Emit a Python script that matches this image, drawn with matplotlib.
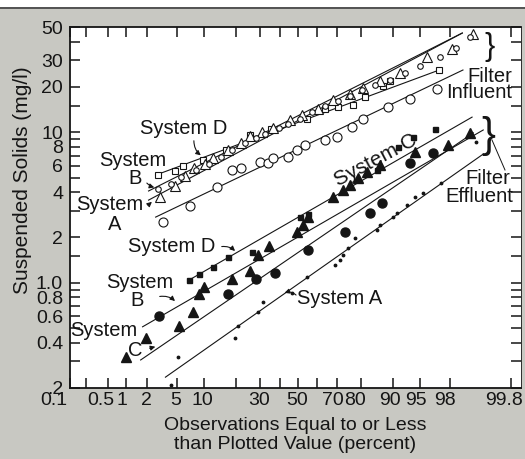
import math

import numpy as np
import matplotlib

matplotlib.use("Agg")
import matplotlib.pyplot as plt
from matplotlib.patches import Rectangle
from matplotlib.transforms import ScaledTranslation

plt.rcParams["font.family"] = ["Liberation Sans", "DejaVu Sans"]

# Filter influent
inf_a_pct = [3.1, 4.8, 6.3, 7.8, 10.4, 12.5, 17.2, 21.7, 25.8, 31.3, 36.3, 45.7,
             52.2, 60.6, 68.1, 75.9, 81.0, 86.6, 91.6, 95.9, 98.1, 99.1]
inf_a_val = [3.71, 4.39, 5.12, 5.8, 6.15, 6.73, 7.61, 8.47, 9.4, 10.0, 10.7, 12.05,
             13.0, 14.3, 16.35, 18.0, 19.7, 21.8, 24.8, 31.6, 35.8, 44.9]
inf_b_pct = [2.84, 4.18, 5.54, 8.2, 11.2, 14.6, 18.6, 23.7, 28.1, 32.8, 39.4, 44.6,
             51.1, 57.5, 64.2, 70.6, 75.9, 80.6, 85.1, 89.3, 92.6, 95.0, 97.25,
             98.36, 99.0]
inf_b_val = [4.19, 4.53, 5.04, 5.61, 6.15, 6.84, 7.61, 8.47, 9.1, 9.8, 10.7, 11.3,
             12.3, 13.6, 14.9, 16.1, 17.4, 19.1, 20.6, 22.2, 24.8, 27.4, 31.6,
             36.2, 43.1]
inf_c_pct = [3.3, 7.2, 13.4, 18.3, 21.7, 30.4, 33.8, 36.8, 44.6, 49.5, 53.8, 64.2,
             70.1, 76.7, 81.0, 88.8, 93.5, 97.0]
inf_c_val = [2.53, 3.23, 4.32, 5.61, 5.83, 6.34, 6.24, 6.73, 6.84, 7.61, 8.22, 8.87,
             9.27, 10.8, 12.3, 14.6, 16.7, 19.4]
inf_d_pct = [2.84, 4.8, 6.0, 9.9, 16.2, 25.8, 35.3, 54.8, 64.2, 70.6, 77.1, 81.7,
             87.5, 89.3, 97.1]
inf_d_val = [5.19, 5.52, 5.93, 6.53, 7.61, 9.57, 10.5, 12.3, 14.3, 14.6, 15.2, 17.2,
             20.3, 21.8, 25.9]

# Filter effluent
eff_a_pct = [4.2, 5.1, 19.7, 20.5, 29.0, 31.8, 46.8, 54.8, 69.1, 71.5, 72.8, 75.0,
             77.9, 85.7, 86.6, 90.0, 90.9, 93.0, 94.3, 95.4, 97.3, 99.2]
eff_a_val = [0.21, 0.32, 0.43, 0.52, 0.64, 0.75, 0.86, 1.09, 1.31, 1.42, 1.53, 1.70,
             1.98, 2.24, 2.42, 2.73, 2.90, 3.28, 3.71, 3.94, 4.6, 8.6]
eff_b_pct = [2.93, 16.9, 28.1, 37.8, 55.4, 73.7, 83.5, 87.2, 93.5, 96.6]
eff_b_val = [0.60, 0.84, 1.06, 1.16, 1.65, 2.17, 2.92, 3.39, 6.24, 7.27]
eff_c_pct = [0.97, 1.93, 5.24, 7.6, 8.83, 9.96, 18.6, 25.8, 29.0, 34.3, 49.5, 52.7,
             55.4, 68.2, 72.8, 75.9, 79.1, 82.4, 86.6, 94.3, 97.87, 99.0]
eff_c_val = [0.32, 0.43, 0.52, 0.64, 0.84, 0.94, 1.06, 1.19, 1.53, 1.75, 2.17, 2.42,
             2.73, 3.71, 4.13, 4.46, 4.98, 5.45, 6.05, 7.4, 8.22, 9.9]
eff_d_pct = [6.86, 8.83, 12.3, 17.2, 26.7, 51.1, 55.4, 85.7, 91.0, 94.0, 96.8]
eff_d_val = [1.04, 1.14, 1.27, 1.48, 1.59, 2.73, 2.85, 5.61, 7.97, 9.25, 10.5]

# прямые (начало, конец)
inf_a_line = ([2.13, 98.67], [3.54, 45.6])
inf_b_line = ([2.13, 98.67], [4.07, 45.6])
inf_c_line = ([2.67, 98.7], [2.73, 25.9])
inf_d_line = ([2.67, 96.98], [5.19, 25.6])
eff_a_line = ([3.6, 99.38], [0.236, 7.16])
eff_b_line = ([1.75, 99.38], [0.51, 10.35])
eff_c_line = ([1.64, 99.1], [0.307, 9.9])
eff_d_line = ([6.9, 99.06], [1.04, 12.6])

xtick_vals = [0.1, 0.5, 1, 2, 5, 10, 30, 50, 70, 80, 90, 95, 98, 99.8]
xtick_labels = ["0.1", "0.5", "1", "2", "5", "10", "30", "50", "70", "80", "90",
                "95", "98", "99.8"]
xtick_minor = [0.2, 20, 40, 60]
ytick_vals = [0.2, 0.4, 0.6, 0.8, 1.0, 2, 4, 6, 8, 10, 20, 30, 50]
ytick_labels = [".2", "0.4", "0.6", "0.8", "1.0", "2", "4", "6", "8", "10", "20",
                "30", "50"]
ytick_minor = [0.3, 0.5, 0.7, 0.9, 1.5, 3, 5, 7, 9, 15, 40]

# --- вероятностная шкала (нормальное распределение) ---
_Z = np.linspace(-6, 6, 6001)
_P = 50.0 * (1.0 + np.array([math.erf(z / math.sqrt(2)) for z in _Z]))


def pct_to_z(p):
    return np.interp(p, _P, _Z)


def z_to_pct(z):
    return np.interp(z, _Z, _P)


BG = "#c8c8c2"
INK = "#151515"

fig = plt.figure(figsize=(5.25, 4.59), dpi=100, facecolor=BG)
fig.patches.append(Rectangle((0, 1 - 7 / 459), 1, 7 / 459, transform=fig.transFigure,
                             facecolor="white", edgecolor="none", zorder=0))
fig.patches.append(Rectangle((0, 1 - 9 / 459), 1, 2 / 459, transform=fig.transFigure,
                             facecolor="#555555", edgecolor="none", zorder=0))

ax = fig.add_axes([70 / 525, 1 - 388 / 459, 451 / 525, 361 / 459])
ax.set_facecolor("white")
ax.set_xscale("function", functions=(pct_to_z, z_to_pct))
ax.set_yscale("log")
ax.set_xlim(0.1, 99.87)
ax.set_ylim(0.2, 50)

for s in ax.spines.values():
    s.set_color(INK)
    s.set_linewidth(1.3)
ax.spines["right"].set_linewidth(0.6)

ax.set_xticks(xtick_vals, xtick_labels)
ax.set_xticks(xtick_minor, minor=True)
ax.set_yticks(ytick_vals, ytick_labels)
ax.set_yticks(ytick_minor, minor=True)
ax.yaxis.set_minor_formatter(plt.NullFormatter())
ax.xaxis.set_minor_formatter(plt.NullFormatter())
ax.tick_params(which="both", direction="in", length=7, width=1.1, color=INK,
               top=True, right=True, labelcolor=INK, labelsize=14)
ax.tick_params(axis="x", pad=3)
ax.tick_params(axis="y", pad=5)

# подписи оси X в оригинале слегка сдвинуты влево
x_shift = [-16, -7, -5, 0, -1, -1, -1, -1, -4, -6, -3, -4, -5, -7]
for lab, dx in zip(ax.get_xticklabels(), x_shift):
    lab.set_transform(lab.get_transform() + ScaledTranslation(dx / 100, 0, fig.dpi_scale_trans))

ax.set_xlabel("Observations Equal to or Less\nthan Plotted Value (percent)",
              fontsize=14, color=INK, linespacing=1.1, labelpad=6)
ax.set_ylabel("Suspended Solids (mg/l)", fontsize=15, color=INK)
ax.yaxis.set_label_coords(-0.084, 0.576)

lw = 0.8
for lx, ly in (inf_a_line, inf_b_line, inf_c_line, inf_d_line,
               eff_a_line, eff_b_line, eff_c_line, eff_d_line):
    ax.plot(lx, ly, color=INK, lw=lw)

op = dict(ls="none", mfc="white", mec=INK, mew=0.8)
ax.plot(inf_c_pct, inf_c_val, "o", ms=6.5, **op)
ax.plot(inf_d_pct, inf_d_val, "s", ms=3.8, **op)
ax.plot(inf_a_pct, inf_a_val, "^", ms=7, **op)
ax.plot(inf_b_pct, inf_b_val, "o", ms=4, **op)

fl = dict(ls="none", color=INK)
ax.plot(eff_a_pct, eff_a_val, ".", ms=3.5, **fl)
ax.plot(eff_b_pct, eff_b_val, "o", ms=6.5, **fl)
ax.plot(eff_c_pct, eff_c_val, "^", ms=7, **fl)
ax.plot(eff_d_pct, eff_d_val, "s", ms=3.6, **fl)


def px(x, y):
    return ((x - 70) / 451, (388 - y) / 361)


tk = dict(transform=ax.transAxes, fontsize=14.5, color=INK, ha="center", va="center")
ar = dict(arrowstyle="-|>", color=INK, lw=0.8, mutation_scale=7)


def arrow(src, dst, rad=0.0):
    ax.annotate("", xy=px(*dst), xycoords="axes fraction", xytext=px(*src),
                textcoords="axes fraction",
                arrowprops=dict(ar, connectionstyle=f"arc3,rad={rad}"))


# верхняя группа
ax.text(*px(184, 128), "System D", **tk)
arrow((194, 138), (203, 157), 0.3)
ax.text(*px(133, 160), "System", **tk)
ax.text(*px(135, 179), "B", **tk)
arrow((145, 181), (157, 188), 0.2)
ax.text(*px(110, 205), "System", **tk)
ax.text(*px(115, 225), "A", **tk)
arrow((146, 207), (154, 200))
ax.text(*px(376, 160), "System C", rotation=28, rotation_mode="anchor",
        **dict(tk, fontsize=15))
ax.text(*px(512, 77), "Filter", **dict(tk, ha="right"))
ax.text(*px(512, 92), "Influent", **dict(tk, ha="right"))
ax.text(*px(490, 47), "}", **dict(tk, fontsize=22))

# нижняя группа
ax.text(*px(172, 247), "System D", **tk)
arrow((219, 247), (237, 253), -0.3)
ax.text(*px(140, 283), "System", **tk)
ax.text(*px(137, 301), "B", **tk)
arrow((157, 297), (177, 303), -0.3)
ax.text(*px(104, 331), "System", **tk)
ax.text(*px(135, 350), "C", **tk)
arrow((147, 349), (158, 346))
ax.text(*px(340, 298), "System A", **tk)
arrow((298, 297), (282, 294), 0.4)
ax.text(*px(488, 136), "}", **dict(tk, fontsize=30))
ax.plot(*zip(px(492, 140), px(505, 170)), transform=ax.transAxes, color=INK, lw=0.7)
ax.text(*px(510, 178), "Filter", **dict(tk, ha="right"))
ax.text(*px(513, 196), "Effluent", **dict(tk, ha="right"))

fig.savefig("out.png", dpi=100, facecolor=BG)
